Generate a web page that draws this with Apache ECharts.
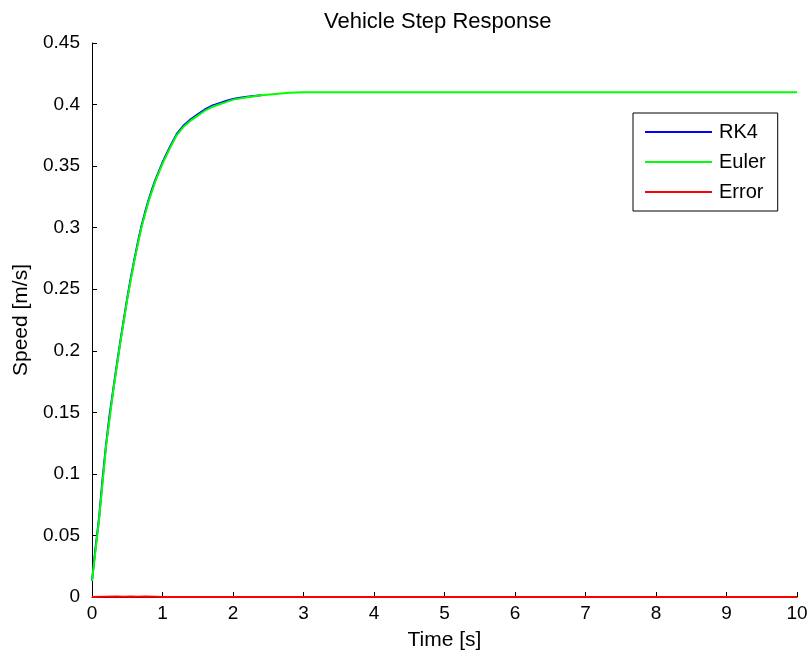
<!DOCTYPE html>
<html>
<head>
<meta charset="utf-8">
<title>Vehicle Step Response</title>
<script src="https://cdn.jsdelivr.net/npm/echarts@6/dist/echarts.min.js"></script>
<style>
  html, body { margin: 0; padding: 0; background: #fff; }
  #chart { width: 807px; height: 656px; }
</style>
</head>
<body>
<div id="chart"></div>
<script>
// values
const rk4Time = [0, 0.05, 0.1, 0.15, 0.2, 0.25, 0.3, 0.35, 0.4, 0.45, 0.5, 0.55, 0.6, 0.65, 0.7,
  0.75, 0.8, 0.85, 0.9, 0.95, 1.0, 1.1, 1.2, 1.3, 1.4, 1.5, 1.6, 1.7, 1.8, 1.9, 2.0, 2.1, 2.2, 2.3, 2.4];
const rk4Speed = [0.013, 0.040, 0.064, 0.096, 0.124, 0.148, 0.168, 0.188, 0.207, 0.225, 0.243, 0.259,
  0.274, 0.288, 0.301, 0.312, 0.322, 0.331, 0.339, 0.346, 0.353, 0.365, 0.376, 0.383, 0.388, 0.392,
  0.396, 0.399, 0.401, 0.403, 0.4045, 0.4055, 0.4063, 0.407, 0.4076];

const eulerTime = [0, 0.1, 0.2, 0.3, 0.4, 0.5, 0.6, 0.7, 0.8, 0.9, 1.0, 1.1, 1.2, 1.3, 1.4, 1.5,
  1.6, 1.7, 1.8, 1.9, 2.0, 2.2, 2.4, 2.6, 2.8, 3.0, 10];
const eulerSpeed = [0.013, 0.063, 0.123, 0.167, 0.206, 0.242, 0.273, 0.300, 0.321, 0.338, 0.352,
  0.364, 0.375, 0.382, 0.387, 0.391, 0.395, 0.398, 0.400, 0.402, 0.404, 0.406, 0.4075, 0.4085,
  0.4095, 0.41, 0.41];

const errorTime = [0, 0.35, 0.45, 0.55, 0.65, 0.75, 0.9, 1.0, 10];
const errorValue = [0, 0.0004, 0.0002, 0.0004, 0.0002, 0.0004, 0.0002, 0, 0];

const pairs = (xs, ys) => xs.map((x, i) => [x, ys[i]]);

const font = 'Liberation Sans, Arial, sans-serif';
const chart = echarts.init(document.getElementById('chart'));

chart.setOption({
  animation: false,
  backgroundColor: '#fff',
  textStyle: { fontFamily: font, color: '#000' },
  title: {
    text: 'Vehicle Step Response',
    left: 319,
    top: 6,
    textStyle: { fontFamily: font, fontSize: 22, fontWeight: 'normal', color: '#000' }
  },
  grid: { left: 92, right: 10, top: 43, bottom: 59, outerBoundsMode: 'none' },
  legend: {
    orient: 'vertical',
    left: 633,
    top: 113,
    padding: [9, 12, 9, 12],
    icon: 'rect',
    itemWidth: 67,
    itemHeight: 2,
    itemGap: 10,
    backgroundColor: '#fff',
    borderColor: '#000',
    borderWidth: 1,
    borderRadius: 0,
    textStyle: { fontFamily: font, fontSize: 20, lineHeight: 20, color: '#000', padding: [0, 0, 0, 2] },
    data: ['RK4', 'Euler', 'Error']
  },
  xAxis: {
    type: 'value',
    min: 0,
    max: 10,
    interval: 1,
    name: 'Time [s]',
    nameLocation: 'middle',
    nameGap: 33,
    nameTextStyle: { fontFamily: font, fontSize: 21, color: '#000' },
    axisLine: { show: true, onZero: false, lineStyle: { color: '#000', width: 1 } },
    axisTick: { show: true, inside: true, length: 5, lineStyle: { color: '#000' } },
    axisLabel: { fontFamily: font, fontSize: 19, color: '#000', margin: 7 },
    splitLine: { show: false }
  },
  yAxis: {
    type: 'value',
    min: 0,
    max: 0.45,
    interval: 0.05,
    name: 'Speed [m/s]',
    nameLocation: 'middle',
    nameGap: 59,
    nameTextStyle: { fontFamily: font, fontSize: 21, color: '#000' },
    axisLine: { show: true, onZero: false, lineStyle: { color: '#000', width: 1 } },
    axisTick: { show: true, inside: true, length: 5, lineStyle: { color: '#000' } },
    axisLabel: { fontFamily: font, fontSize: 19, color: '#000', margin: 12 },
    splitLine: { show: false }
  },
  series: [
    {
      name: 'RK4',
      type: 'line',
      symbol: 'none',
      data: pairs(rk4Time, rk4Speed),
      lineStyle: { color: '#0000ff', width: 2 },
      itemStyle: { color: '#0000ff' },
      z: 2
    },
    {
      name: 'Euler',
      type: 'line',
      symbol: 'none',
      data: pairs(eulerTime, eulerSpeed),
      lineStyle: { color: '#00ff00', width: 2 },
      itemStyle: { color: '#00ff00' },
      z: 3
    },
    {
      name: 'Error',
      type: 'line',
      symbol: 'none',
      data: pairs(errorTime, errorValue),
      lineStyle: { color: '#ff0000', width: 2 },
      itemStyle: { color: '#ff0000' },
      z: 4
    }
  ]
});
</script>
</body>
</html>
